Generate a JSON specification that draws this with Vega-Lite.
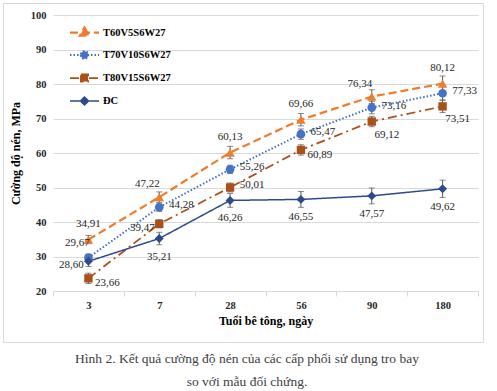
{
  "$schema": "https://vega.github.io/schema/vega-lite/v6.json",
  "width": 480,
  "height": 339,
  "autosize": "none",
  "padding": {"left": 3, "top": 3, "right": 14, "bottom": 49},
  "background": "white",
  "config": {
    "locale": {"number": {"decimal": ",", "thousands": ".", "grouping": [3], "currency": ["", ""]}},
    "view": {"stroke": "#d9d9d9", "strokeWidth": 1},
    "font": "Liberation Serif"
  },
  "title": {
    "text": ["Hình 2. Kết quả cường độ nén của các cấp phối sử dụng tro bay", "so với mẫu đối chứng."],
    "orient": "bottom",
    "anchor": "middle",
    "frame": "group",
    "dx": 4,
    "font": "Liberation Serif",
    "fontSize": 13.5,
    "fontWeight": "normal",
    "color": "#404040",
    "offset": 10,
    "lineHeight": 23
  },
  "data": {
    "values": [
      {"s": "T60V5S6W27", "d": 3, "v": 34.91, "e": 1.2},
      {"s": "T60V5S6W27", "d": 7, "v": 47.22, "e": 1.5},
      {"s": "T60V5S6W27", "d": 28, "v": 60.13, "e": 1.8},
      {"s": "T60V5S6W27", "d": 56, "v": 69.66, "e": 1.8},
      {"s": "T60V5S6W27", "d": 90, "v": 76.34, "e": 2.0},
      {"s": "T60V5S6W27", "d": 180, "v": 80.12, "e": 2.2},
      {"s": "T70V10S6W27", "d": 3, "v": 29.67, "e": 1.0},
      {"s": "T70V10S6W27", "d": 7, "v": 44.28, "e": 1.2},
      {"s": "T70V10S6W27", "d": 28, "v": 55.26, "e": 1.2},
      {"s": "T70V10S6W27", "d": 56, "v": 65.47, "e": 1.5},
      {"s": "T70V10S6W27", "d": 90, "v": 73.16, "e": 1.8},
      {"s": "T70V10S6W27", "d": 180, "v": 77.33, "e": 2.0},
      {"s": "T80V15S6W27", "d": 3, "v": 23.66, "e": 1.5},
      {"s": "T80V15S6W27", "d": 7, "v": 39.47, "e": 1.2},
      {"s": "T80V15S6W27", "d": 28, "v": 50.01, "e": 1.3},
      {"s": "T80V15S6W27", "d": 56, "v": 60.89, "e": 1.5},
      {"s": "T80V15S6W27", "d": 90, "v": 69.12, "e": 1.5},
      {"s": "T80V15S6W27", "d": 180, "v": 73.51, "e": 1.8},
      {"s": "ĐC", "d": 3, "v": 28.60, "e": 1.5},
      {"s": "ĐC", "d": 7, "v": 35.21, "e": 1.8},
      {"s": "ĐC", "d": 28, "v": 46.26, "e": 2.0},
      {"s": "ĐC", "d": 56, "v": 46.55, "e": 2.3},
      {"s": "ĐC", "d": 90, "v": 47.57, "e": 2.3},
      {"s": "ĐC", "d": 180, "v": 49.62, "e": 2.5}
    ]
  },
  "encoding": {
    "x": {
      "field": "d",
      "type": "ordinal",
      "scale": {"type": "band", "paddingInner": 0, "paddingOuter": 0, "range": [50, 475]},
      "axis": {
        "title": "Tuổi bê tông, ngày",
        "offset": -51,
        "titleFont": "Liberation Serif",
        "titleFontSize": 12,
        "titleFontWeight": "bold",
        "titleColor": "#000000",
        "titlePadding": 5,
        "labelFont": "Liberation Serif",
        "labelFontSize": 10.5,
        "labelFontWeight": "bold",
        "labelColor": "#262626",
        "labelAngle": 0,
        "labelPadding": 4,
        "tickBand": "extent",
        "tickSize": 5,
        "tickColor": "#d9d9d9",
        "domainColor": "#d9d9d9",
        "grid": false
      }
    },
    "y": {
      "field": "v",
      "type": "quantitative",
      "scale": {"domain": [20, 100], "range": [288, 12]},
      "axis": {
        "title": "Cường độ nén, MPa",
        "offset": -50,
        "values": [20, 30, 40, 50, 60, 70, 80, 90, 100],
        "grid": true,
        "gridColor": "#d9d9d9",
        "domain": false,
        "ticks": false,
        "labelPadding": 7,
        "labelFont": "Liberation Serif",
        "labelFontSize": 10.5,
        "labelFontWeight": "bold",
        "labelColor": "#262626",
        "titleFont": "Liberation Serif",
        "titleFontSize": 12,
        "titleFontWeight": "bold",
        "titleColor": "#000000",
        "titlePadding": 8
      }
    }
  },
  "layer": [
    {
      "mark": {"type": "line"},
      "encoding": {
        "color": {
          "field": "s",
          "type": "nominal",
          "scale": {"domain": ["T60V5S6W27", "T70V10S6W27", "T80V15S6W27", "ĐC"], "range": ["#ED7D31", "#4472C4", "#A9501B", "#2F4A8A"]},
          "legend": {
            "title": null,
            "orient": "none",
            "legendX": 70,
            "legendY": 18,
            "padding": 0,
            "symbolSize": 400,
            "labelOffset": 7,
            "rowPadding": 4,
            "labelFont": "Liberation Serif",
            "labelFontSize": 10.5,
            "labelFontWeight": "bold",
            "labelColor": "#000000",
            "symbolStrokeWidth": 2,
            "encode": {
              "symbols": {
                "update": {
                  "shape": {"signal": "datum.value==='T60V5S6W27'?'M-1.45,0L1.45,0M0,-0.5L0.45,0.3L-0.45,0.3Z':datum.value==='T70V10S6W27'?'M-1.45,0L1.45,0M-0.38,0A0.38,0.38 0 1,0 0.38,0A0.38,0.38 0 1,0 -0.38,0Z':datum.value==='T80V15S6W27'?'M-1.45,0L1.45,0M-0.36,-0.36L0.36,-0.36L0.36,0.36L-0.36,0.36Z':'M-1.45,0L1.45,0M0,-0.4L0.4,0L0,0.4L-0.4,0Z'"},
                  "strokeDash": {"signal": "datum.value==='T60V5S6W27'?[6,5]:datum.value==='T70V10S6W27'?[1.5,2]:datum.value==='T80V15S6W27'?[6,5]:[1,0]"},
                  "fill": {"signal": "scale('color', datum.value)"},
                  "stroke": {"signal": "scale('color', datum.value)"},
                  "strokeWidth": {"value": 2},
                  "size": {"value": 400},
                  "opacity": {"value": 1},
                  "fillOpacity": {"value": 1}
                }
              }
            }
          }
        },
        "strokeDash": {
          "field": "s",
          "type": "nominal",
          "scale": {"domain": ["T60V5S6W27", "T70V10S6W27", "T80V15S6W27", "ĐC"], "range": [[8, 4], [1.5, 2], [9, 4, 2, 4], [1, 0]]},
          "legend": null
        },
        "strokeWidth": {
          "field": "s",
          "type": "nominal",
          "scale": {"domain": ["T60V5S6W27", "T70V10S6W27", "T80V15S6W27", "ĐC"], "range": [2.25, 1.5, 2.25, 2]},
          "legend": null
        }
      }
    },
    {
      "mark": {"type": "errorbar", "ticks": {"size": 6}, "color": "#595959", "thickness": 1},
      "encoding": {
        "y": {"field": "v", "type": "quantitative"},
        "yError": {"field": "e"}
      }
    },
    {
      "transform": [{"filter": {"field": "s", "equal": "T60V5S6W27"}}],
      "mark": {"type": "point", "filled": true, "opacity": 1, "shape": "triangle-up", "size": 90},
      "encoding": {"color": {"field": "s", "type": "nominal", "legend": null}}
    },
    {
      "transform": [{"filter": {"field": "s", "equal": "T70V10S6W27"}}],
      "mark": {"type": "point", "filled": true, "opacity": 1, "shape": "circle", "size": 75},
      "encoding": {"color": {"field": "s", "type": "nominal", "legend": null}}
    },
    {
      "transform": [{"filter": {"field": "s", "equal": "T80V15S6W27"}}],
      "mark": {"type": "point", "filled": true, "opacity": 1, "shape": "square", "size": 70},
      "encoding": {"color": {"field": "s", "type": "nominal", "legend": null}}
    },
    {
      "transform": [{"filter": {"field": "s", "equal": "ĐC"}}],
      "mark": {"type": "point", "filled": true, "opacity": 1, "shape": "diamond", "size": 80},
      "encoding": {"color": {"field": "s", "type": "nominal", "legend": null}}
    },
    {
      "transform": [{"filter": {"and": [{"field": "s", "equal": "T60V5S6W27"}, {"field": "d", "oneOf": [3, 28, 56, 180]}]}}],
      "mark": {"type": "text", "dy": -16, "fontSize": 11, "font": "Liberation Serif", "color": "#262626"},
      "encoding": {"text": {"field": "v", "type": "quantitative", "format": ".2f"}}
    },
    {
      "transform": [{"filter": {"and": [{"field": "s", "equal": "ĐC"}, {"field": "d", "oneOf": [7, 28, 56, 90, 180]}]}}],
      "mark": {"type": "text", "dy": 18, "fontSize": 11, "font": "Liberation Serif", "color": "#262626"},
      "encoding": {"text": {"field": "v", "type": "quantitative", "format": ".2f"}}
    },
    {
      "transform": [{"filter": {"or": [{"and": [{"field": "s", "equal": "T70V10S6W27"}, {"field": "d", "oneOf": [7, 28, 56, 90, 180]}]}, {"and": [{"field": "s", "equal": "T80V15S6W27"}, {"field": "d", "oneOf": [28]}]}]}}],
      "mark": {"type": "text", "dx": 22, "dy": -2, "fontSize": 11, "font": "Liberation Serif", "color": "#262626"},
      "encoding": {"text": {"field": "v", "type": "quantitative", "format": ".2f"}}
    },
    {
      "transform": [{"filter": {"and": [{"field": "s", "equal": "T60V5S6W27"}, {"field": "d", "oneOf": [7, 90]}]}}],
      "mark": {"type": "text", "dx": -12, "dy": -13, "fontSize": 11, "font": "Liberation Serif", "color": "#262626"},
      "encoding": {"text": {"field": "v", "type": "quantitative", "format": ".2f"}}
    },
    {
      "transform": [{"filter": {"and": [{"field": "s", "equal": "T80V15S6W27"}, {"field": "d", "oneOf": [90, 180]}]}}],
      "mark": {"type": "text", "dx": 15, "dy": 13, "fontSize": 11, "font": "Liberation Serif", "color": "#262626"},
      "encoding": {"text": {"field": "v", "type": "quantitative", "format": ".2f"}}
    },
    {
      "transform": [{"filter": {"and": [{"field": "s", "equal": "T80V15S6W27"}, {"field": "d", "oneOf": [3, 56]}]}}],
      "mark": {"type": "text", "dx": 19, "dy": 5, "fontSize": 11, "font": "Liberation Serif", "color": "#262626"},
      "encoding": {"text": {"field": "v", "type": "quantitative", "format": ".2f"}}
    },
    {
      "transform": [{"filter": {"or": [{"and": [{"field": "s", "equal": "T80V15S6W27"}, {"field": "d", "oneOf": [7]}]}, {"and": [{"field": "s", "equal": "ĐC"}, {"field": "d", "oneOf": [3]}]}]}}],
      "mark": {"type": "text", "dx": -17, "dy": 4, "fontSize": 11, "font": "Liberation Serif", "color": "#262626"},
      "encoding": {"text": {"field": "v", "type": "quantitative", "format": ".2f"}}
    },
    {
      "transform": [{"filter": {"and": [{"field": "s", "equal": "T70V10S6W27"}, {"field": "d", "oneOf": [3]}]}}],
      "mark": {"type": "text", "dx": -11, "dy": -15, "fontSize": 11, "font": "Liberation Serif", "color": "#262626"},
      "encoding": {"text": {"field": "v", "type": "quantitative", "format": ".2f"}}
    }
  ]
}
